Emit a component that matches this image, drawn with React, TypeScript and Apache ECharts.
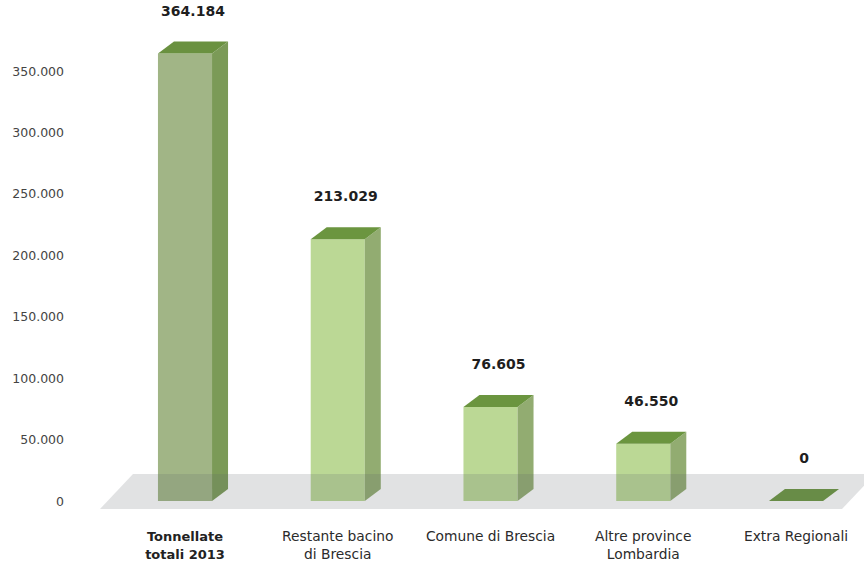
import React, { useEffect, useRef } from "react";
import * as echarts from "echarts";

// Destinations of the collected waste (tonnes, 2013)
const categories = [
  "Tonnellate\ntotali 2013",
  "Restante bacino\ndi Brescia",
  "Comune di Brescia",
  "Altre province\nLombardia",
  "Extra Regionali",
];
const tonnellate = [364184, 213029, 76605, 46550, 0];

const yMin = 0;
const yMax = 350000;
const yStep = 50000;

// Box colours: the total bar is olive, the breakdown bars light green
const TOTAL = { front: "#a1b586", side: "#7b9a57", top: "#6a9140" };
const PART = { front: "#bbd895", side: "#92ac71", top: "#6b953f" };

const FONT = "'DejaVu Sans', 'Noto Sans', sans-serif";

// Chart frame in pixels: category points sit at the centre of each box front
const FIRST_X = 185;
const SPAN_X = 611;
const GRID_TOP = 71;
const ZERO_Y = 502;
const DEPTH_X = 16;
const DEPTH_Y = 12;

const fmtIt = (n: number) =>
  String(Math.round(n)).replace(/\B(?=(\d{3})+(?!\d))/g, ".");

export default function App() {
  const ref = useRef<HTMLDivElement>(null);

  useEffect(() => {
    if (!ref.current) return;
    const chart = echarts.init(ref.current, null, { renderer: "svg" });

    const floorFront = ZERO_Y + 7;
    const floorBack = ZERO_Y - 28;

    chart.setOption({
      animation: false,
      backgroundColor: "#ffffff",
      textStyle: { fontFamily: FONT },
      grid: {
        left: FIRST_X,
        width: SPAN_X,
        top: GRID_TOP,
        height: ZERO_Y - GRID_TOP,
        containLabel: false,
      },
      xAxis: {
        type: "category",
        data: categories,
        boundaryGap: false,
        axisLine: { show: false },
        axisTick: { show: false },
        splitLine: { show: false },
        axisLabel: {
          margin: 26,
          color: "#2b2b2b",
          fontSize: 13.8,
          lineHeight: 18,
          interval: 0,
          formatter: (value: string, index: number) =>
            index === 0
              ? value
                  .split("\n")
                  .map((l) => `{b|${l}}`)
                  .join("\n")
              : value,
          rich: {
            b: { fontWeight: "bold", fontSize: 13, lineHeight: 18, color: "#222222" },
          },
        },
      },
      yAxis: {
        type: "value",
        min: yMin,
        max: yMax,
        interval: yStep,
        axisLine: { show: false },
        axisTick: { show: false },
        splitLine: { show: false },
        axisLabel: {
          margin: FIRST_X - 64,
          color: "#444444",
          fontSize: 12.5,
          formatter: (v: number) => fmtIt(v),
        },
      },
      graphic: [
        {
          type: "polygon",
          z: 10,
          silent: true,
          shape: {
            points: [
              [100, floorFront],
              [842, floorFront],
              [875, floorBack],
              [133, floorBack],
            ],
          },
          style: { fill: "rgba(95,100,108,0.19)" },
        },
      ],
      series: [
        {
          type: "custom",
          clip: false,
          z: 2,
          data: tonnellate.map((v, i) => [i, v]),
          encode: { x: 0, y: 1 },
          renderItem: (params: any, api: any) => {
            const idx = api.value(0);
            const v = api.value(1);
            const top = api.coord([idx, v]);
            const base = api.coord([idx, 0]);
            const band = api.size([1, 0])[0];
            const w = band * 0.354;
            const x0 = top[0] - w / 2;
            const x1 = x0 + w;
            const c = idx === 0 ? TOTAL : PART;
            const children: any[] = [];
            if (v > 0) {
              children.push({
                type: "rect",
                shape: { x: x0, y: top[1], width: w, height: base[1] - top[1] },
                style: { fill: c.front },
              });
              children.push({
                type: "polygon",
                shape: {
                  points: [
                    [x1, top[1]],
                    [x1 + DEPTH_X, top[1] - DEPTH_Y],
                    [x1 + DEPTH_X, base[1] - DEPTH_Y],
                    [x1, base[1]],
                  ],
                },
                style: { fill: c.side },
              });
            }
            children.push({
              type: "polygon",
              shape: {
                points: [
                  [x0, top[1]],
                  [x0 + DEPTH_X, top[1] - DEPTH_Y],
                  [x1 + DEPTH_X, top[1] - DEPTH_Y],
                  [x1, top[1]],
                ],
              },
              style: { fill: c.top },
            });
            children.push({
              type: "text",
              style: {
                x: (x0 + x1) / 2 + DEPTH_X / 2,
                y: top[1] - DEPTH_Y - 31,
                text: fmtIt(v),
                fill: "#1e1e1e",
                fontSize: 14,
                fontWeight: "bold",
                fontFamily: FONT,
                align: "center",
                verticalAlign: "middle",
              },
            });
            return { type: "group", children };
          },
        },
      ],
    });

    return () => chart.dispose();
  }, []);

  return (
    <div
      ref={ref}
      style={{ position: "absolute", left: 0, top: 0, width: 864, height: 563 }}
    />
  );
}
